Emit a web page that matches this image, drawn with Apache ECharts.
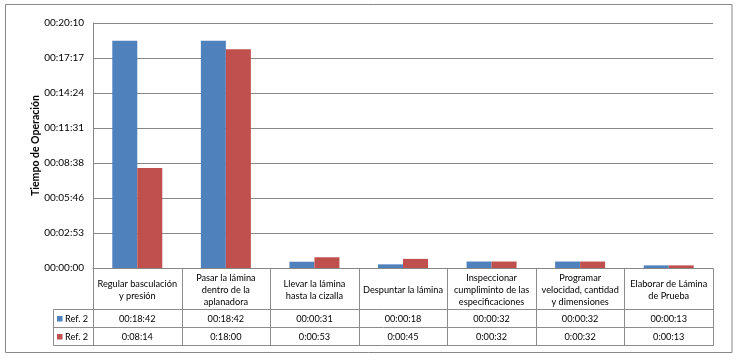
<!DOCTYPE html>
<html><head><meta charset="utf-8">
<script src="https://cdn.jsdelivr.net/npm/echarts@6/dist/echarts.min.js"></script>
<style>html,body{margin:0;padding:0;background:#fff}#c{width:739px;height:361px}</style>
</head><body><div id="c"></div>
<script>
var categories = ["Regular basculación\ny presión","Pasar la lámina\ndentro de la\naplanadora","Llevar la lámina\nhasta la cizalla","Despuntar la lámina","Inspeccionar\ncumpliminto de las\nespecificaciones","Programar\nvelocidad, cantidad\ny dimensiones","Elaborar de Lámina\nde Prueba"];
var seriesNames = ["Ref. 2","Ref. 2"];
var seriesA = [1122, 1122, 31, 18, 32, 32, 13];
var seriesB = [494, 1080, 53, 45, 32, 32, 13];
var rowLabelsA = ["00:18:42","00:18:42","00:00:31","00:00:18","00:00:32","00:00:32","00:00:13"];
var rowLabelsB = ["0:08:14","0:18:00","0:00:53","0:00:45","0:00:32","0:00:32","0:00:13"];
var yMin = 0, yMax = 1209.6, yInterval = 172.8;
var colors = ["#4F81BD","#C0504D"];
var FONT = "Lato";

function fmt(v){
  var s = Math.round(v);
  var h = Math.floor(s/3600), m = Math.floor((s%3600)/60), ss = s%60;
  function p(n){return (n<10?"0":"")+n;}
  return p(h)+":"+p(m)+":"+p(ss);
}

var chart = echarts.init(document.getElementById('c'));
var gridL = 93, gridR = 713, gridT = 23, gridB = 268;
chart.setOption({
  animation:false,
  grid:{left:gridL, right:739-gridR, top:gridT, bottom:361-gridB},
  xAxis:{type:'category', data:categories, axisLabel:{show:false}, axisTick:{show:false},
    axisLine:{show:true, lineStyle:{color:'#878787', width:1}}},
  yAxis:{type:'value', min:yMin, max:yMax, interval:yInterval,
    name:'Tiempo de Operación', nameLocation:'middle', nameGap:52, nameMoveOverlap:false,
    nameTextStyle:{fontFamily:FONT, fontWeight:'bold', fontSize:10.5, color:'#000'},
    axisLine:{show:true, lineStyle:{color:'#878787'}}, axisTick:{show:false},
    axisLabel:{formatter:fmt, fontFamily:FONT, fontSize:10, color:'#000', margin:9},
    splitLine:{lineStyle:{color:'#878787', width:1}}},
  series:[
    {name:seriesNames[0], type:'bar', data:seriesA, barWidth:25, barGap:'0%', itemStyle:{color:colors[0]}},
    {name:seriesNames[1], type:'bar', data:seriesB, barWidth:25, barGap:'0%', itemStyle:{color:colors[1]}}
  ]
});

var g = [];
var lc = '#8c8c8c';
var TF = '9.2px '+FONT;
function line(x1,y1,x2,y2){g.push({type:'line', shape:{x1:x1,y1:y1,x2:x2,y2:y2}, style:{stroke:lc, lineWidth:1}, silent:true});}
var n = categories.length;
var c0 = chart.convertToPixel({xAxisIndex:0}, 0);
var c1 = chart.convertToPixel({xAxisIndex:0}, 1);
var step = c1 - c0;
var left = c0 - step/2;
var rowTop = 268.5, row1 = 309.5, row2 = 327.5, rowBot = 345.5, legL = 53.5;
for (var i=0;i<=n;i++){ var x = Math.round(left + i*step)+0.5; line(x,rowTop,x,rowBot); }
var xr = Math.round(left+n*step)+0.5;
line(legL,row1,xr,row1); line(legL,row2,xr,row2); line(legL,rowBot,xr,rowBot);
line(legL,row1,legL,rowBot);
for (var i=0;i<n;i++){
  var cx = chart.convertToPixel({xAxisIndex:0}, i);
  g.push({type:'text', x:cx, y:(rowTop+row1)/2+1, silent:true, style:{text:categories[i], align:'center', verticalAlign:'middle', font:TF, fill:'#000', lineHeight:12.3}});
  g.push({type:'text', x:cx, y:(row1+row2)/2+0.5, silent:true, style:{text:rowLabelsA[i], align:'center', verticalAlign:'middle', font:TF, fill:'#000'}});
  g.push({type:'text', x:cx, y:(row2+rowBot)/2+0.5, silent:true, style:{text:rowLabelsB[i], align:'center', verticalAlign:'middle', font:TF, fill:'#000'}});
}
var rowsY = [(row1+row2)/2, (row2+rowBot)/2];
for (var k=0;k<2;k++){
  g.push({type:'rect', shape:{x:57, y:rowsY[k]-2.5, width:5.5, height:5.5}, style:{fill:colors[k]}, silent:true});
  g.push({type:'text', x:65, y:rowsY[k]+0.5, silent:true, style:{text:seriesNames[k], align:'left', verticalAlign:'middle', font:TF, fill:'#000'}});
}
g.push({type:'rect', shape:{x:5.5, y:4.5, width:726.5, height:348}, style:{fill:'none', stroke:'#888', lineWidth:1}, silent:true, z:-1});
chart.setOption({graphic:g});
</script></body></html>
